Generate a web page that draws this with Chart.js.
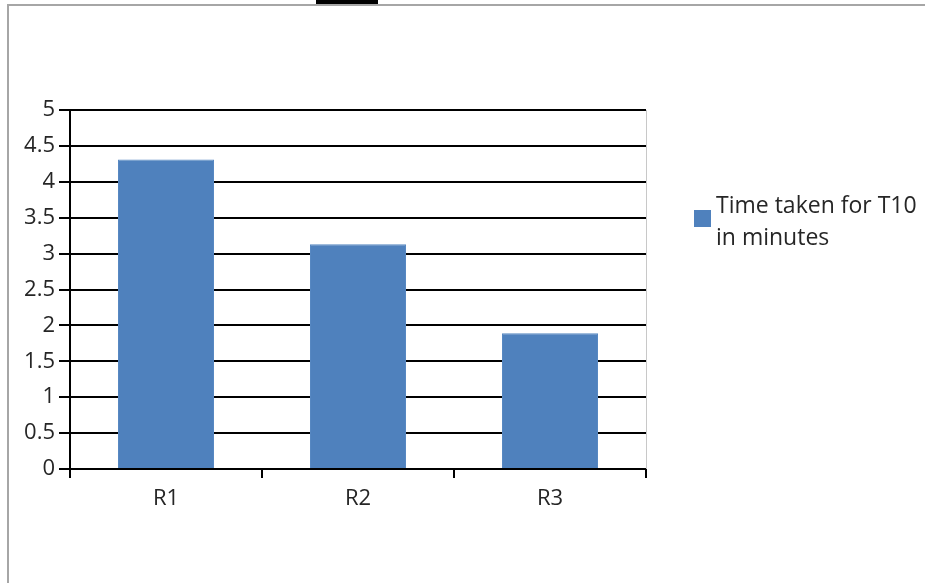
<!DOCTYPE html>
<html>
<head>
<meta charset="utf-8">
<script src="https://cdn.jsdelivr.net/npm/chart.js@4"></script>
<style>
  html, body { margin: 0; padding: 0; background: #fff; }
  body { width: 925px; height: 583px; position: relative; overflow: hidden; }
  #frame {
    position: absolute; left: 7px; top: 4px; width: 1000px; height: 700px;
    border-left: 2px solid #a6a6a6; border-top: 2px solid #a6a6a6;
  }
  #mark { position: absolute; left: 316px; top: 0; width: 62px; height: 4px; background: #000; }
  #wrap { position: absolute; left: 0; top: 0; width: 925px; height: 583px; }
</style>
</head>
<body>
<div id="mark"></div>
<div id="frame"></div>
<div id="wrap"><canvas id="chart" width="925" height="583"></canvas></div>
<script>
const categories = ['R1', 'R2', 'R3'];
const timeTaken = [4.31, 3.13, 1.89];
const seriesLabel = ['Time taken for T10', 'in minutes'];
const yMin = 0;
const yMax = 5;
const yStep = 0.5;

const barColor = '#4f81bd';
const fontFamily = '"Open Sans", sans-serif';

// legend drawn by hand so the label can wrap on two lines like the original
const sideLegend = {
  id: 'sideLegend',
  afterDraw(chart) {
    const ctx = chart.ctx;
    const ds = chart.data.datasets[0];
    ctx.save();
    ctx.fillStyle = ds.backgroundColor;
    ctx.fillRect(694, 210, 17, 17);
    ctx.fillStyle = '#262626';
    ctx.font = '23px ' + fontFamily;
    ctx.textBaseline = 'middle';
    ds.legendLines.forEach((line, i) => {
      ctx.fillText(line, 716, 206 + i * 32);
    });
    ctx.restore();
  }
};

// thin grey border on the right side of the plot
const plotEdge = {
  id: 'plotEdge',
  afterDraw(chart) {
    const { ctx, chartArea } = chart;
    ctx.save();
    ctx.strokeStyle = '#c8c8c8';
    ctx.lineWidth = 1;
    ctx.beginPath();
    ctx.moveTo(chartArea.right + 0.5, chartArea.top);
    ctx.lineTo(chartArea.right + 0.5, chartArea.bottom);
    ctx.stroke();
    ctx.restore();
  }
};

new Chart(document.getElementById('chart'), {
  type: 'bar',
  data: {
    labels: categories,
    datasets: [{
      label: seriesLabel.join(' '),
      legendLines: seriesLabel,
      data: timeTaken,
      backgroundColor: barColor,
      borderColor: '#5788c2',
      borderWidth: 1,
      categoryPercentage: 1,
      barPercentage: 0.5,
    }],
  },
  options: {
    responsive: false,
    animation: false,
    layout: { padding: { left: 0, right: 279, top: 110, bottom: 64 } },
    plugins: {
      legend: { display: false },
      tooltip: { enabled: false },
    },
    scales: {
      x: {
        grid: {
          offset: true,
          drawOnChartArea: false,
          color: '#000',
          lineWidth: 2,
          tickLength: 9,
        },
        border: { color: '#000', width: 2 },
        ticks: {
          color: '#262626',
          padding: 8,
          font: { family: fontFamily, size: 22 },
        },
        afterFit(scale) { scale.height = 50; },
      },
      y: {
        min: yMin,
        max: yMax,
        ticks: {
          stepSize: yStep,
          color: '#262626',
          padding: 4,
          font: { family: fontFamily, size: 22 },
          callback: (v) => String(v),
        },
        grid: {
          color: '#000',
          lineWidth: 2,
          tickLength: 11,
        },
        border: { color: '#000', width: 2 },
        afterFit(scale) { scale.width = 70; },
      },
    },
  },
  plugins: [sideLegend, plotEdge],
});
</script>
</body>
</html>
